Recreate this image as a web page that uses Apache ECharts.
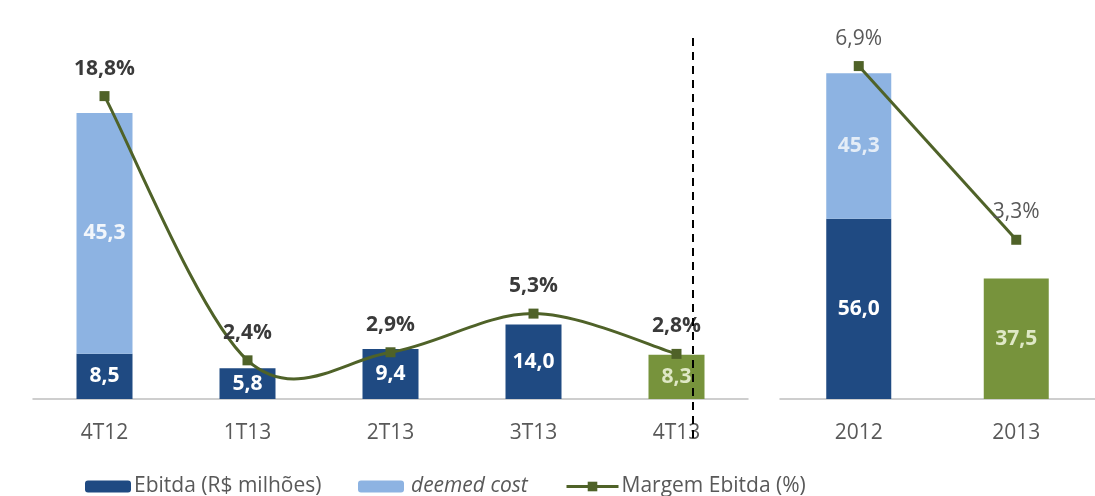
<!DOCTYPE html>
<html>
<head>
<meta charset="utf-8">
<script src="https://cdn.jsdelivr.net/npm/echarts@6/dist/echarts.min.js"></script>
<style>html,body{margin:0;padding:0;background:#fff}#c{width:1095px;height:496px}</style>
</head>
<body>
<div id="c"></div>
<script>
const quarters = ['4T12', '1T13', '2T13', '3T13', '4T13'];
const ebitdaQ = [8.5, 5.8, 9.4, 14.0, 8.3];
const deemedQ = [45.3, null, null, null, null];
const marginQ = [18.8, 2.4, 2.9, 5.3, 2.8];
const years = ['2012', '2013'];
const ebitdaY = [56.0, 37.5];
const deemedY = [45.3, null];
const marginY = [6.9, 3.3];
const highlightQ = [false, false, false, false, true];
const highlightY = [false, true];

const DARK = '#1F4A82', LIGHT = '#8DB3E2', GREEN = '#77933C', LINE = '#4F6228';
const FONT = 'Open Sans';
const fmt = v => Number(v).toFixed(1).replace('.', ',');
const fmtPct = v => fmt(v) + '%';

function ebData(vals, hl) {
  return vals.map((v, i) => hl[i]
    ? { value: v, itemStyle: { color: GREEN }, label: { color: '#dfe8c6' } }
    : { value: v });
}

const N1 = 'Ebitda (R$ milhões)', N2 = 'deemed cost', N3 = 'Margem Ebitda (%)';
const legendBase = {
  top: 471, itemHeight: 12, itemWidth: 46, itemGap: 0,
  textStyle: { fontFamily: FONT, fontSize: 21, color: '#595959', padding: [0, 0, 0, -2] }
};

// Excel-style smoothed curve (Catmull-Rom bezier) through the margin points
function renderSmooth(params, api) {
  const i = params.dataIndex;
  const n = marginQ.length;
  if (i >= n - 1) return { type: 'group', children: [] };
  const P = k => api.coord([Math.max(0, Math.min(n - 1, k)), marginQ[Math.max(0, Math.min(n - 1, k))]]);
  const p0 = P(i - 1), p1 = P(i), p2 = P(i + 1), p3 = P(i + 2);
  const t = 1 / 6;
  return {
    type: 'bezierCurve',
    shape: {
      x1: p1[0], y1: p1[1], x2: p2[0], y2: p2[1],
      cpx1: p1[0] + (p2[0] - p0[0]) * t, cpy1: p1[1] + (p2[1] - p0[1]) * t,
      cpx2: p2[0] - (p3[0] - p1[0]) * t, cpy2: p2[1] - (p3[1] - p1[1]) * t
    },
    style: { stroke: LINE, lineWidth: 3, fill: null }
  };
}

const option = {
  animation: false,
  textStyle: { fontFamily: FONT },
  grid: [
    { left: 33, top: 80, width: 715, height: 319 },
    { left: 780, top: 13, width: 326, height: 386 }
  ],
  legend: [
    Object.assign({}, legendBase, { left: 80, data: [N1] }),
    Object.assign({}, legendBase, { left: 353, data: [N2], textStyle: Object.assign({}, legendBase.textStyle, { fontStyle: 'italic', padding: [0, 0, 0, 2] }) }),
    Object.assign({}, legendBase, { left: 560, itemWidth: 52, data: [{ name: N3, lineStyle: { color: LINE, width: 3, opacity: 1 } }] })
  ],
  xAxis: [
    { type: 'category', gridIndex: 0, data: quarters,
      axisLine: { lineStyle: { color: '#BFBFBF', width: 1.5 } }, axisTick: { show: false },
      axisLabel: { fontFamily: FONT, fontSize: 21, color: '#595959', margin: 24 } },
    { type: 'category', gridIndex: 1, data: years,
      axisLine: { lineStyle: { color: '#BFBFBF', width: 1.5 } }, axisTick: { show: false },
      axisLabel: { fontFamily: FONT, fontSize: 21, color: '#595959', margin: 24 } }
  ],
  yAxis: [
    { type: 'value', gridIndex: 0, min: 0, max: 60, show: false },
    { type: 'value', gridIndex: 0, min: 0, max: 19.8, show: false },
    { type: 'value', gridIndex: 1, min: 0, max: 120, show: false },
    { type: 'value', gridIndex: 1, min: 0, max: 8, show: false }
  ],
  series: [
    { name: N1, type: 'bar', xAxisIndex: 0, yAxisIndex: 0, stack: 'q', barWidth: 56,
      itemStyle: { color: DARK }, data: ebData(ebitdaQ, highlightQ),
      label: { show: true, position: 'inside', color: '#ffffff', fontWeight: 'bold', fontSize: 21, fontFamily: FONT, formatter: p => fmt(p.value) } },
    { name: N2, type: 'bar', xAxisIndex: 0, yAxisIndex: 0, stack: 'q', barWidth: 56,
      itemStyle: { color: LIGHT }, data: deemedQ,
      label: { show: true, position: 'inside', color: '#f2f6fb', fontWeight: 'bold', fontSize: 21, fontFamily: FONT, formatter: p => fmt(p.value) } },
    { name: N3, type: 'line', xAxisIndex: 0, yAxisIndex: 1, data: marginQ,
      symbol: 'rect', symbolSize: 10, lineStyle: { color: LINE, width: 3, opacity: 0 }, itemStyle: { color: LINE },
      label: { show: true, position: 'top', distance: 12, color: '#3a3a3a', fontWeight: 'bold', fontSize: 21, fontFamily: FONT, formatter: p => fmtPct(p.value) }, z: 6 },
    { name: 'curve', type: 'custom', xAxisIndex: 0, yAxisIndex: 1, renderItem: renderSmooth,
      data: marginQ.map((v, i) => [i, v]), silent: true, z: 5 },
    { name: N1, type: 'bar', xAxisIndex: 1, yAxisIndex: 2, stack: 'y', barWidth: 65,
      itemStyle: { color: DARK }, data: ebData(ebitdaY, highlightY),
      label: { show: true, position: 'inside', color: '#ffffff', fontWeight: 'bold', fontSize: 21, fontFamily: FONT, formatter: p => fmt(p.value) } },
    { name: N2, type: 'bar', xAxisIndex: 1, yAxisIndex: 2, stack: 'y', barWidth: 65,
      itemStyle: { color: LIGHT }, data: deemedY,
      label: { show: true, position: 'inside', color: '#e4edf7', fontWeight: 'bold', fontSize: 21, fontFamily: FONT, formatter: p => fmt(p.value) } },
    { name: N3, type: 'line', xAxisIndex: 1, yAxisIndex: 3, data: marginY,
      symbol: 'rect', symbolSize: 10, lineStyle: { color: LINE, width: 3 }, itemStyle: { color: LINE },
      label: { show: true, position: 'top', distance: 12, color: '#595959', fontSize: 21, fontFamily: FONT, formatter: p => fmtPct(p.value) }, z: 5 }
  ],
  graphic: [
    { type: 'line', shape: { x1: 693, y1: 38, x2: 693, y2: 440 },
      style: { stroke: '#000', lineWidth: 2, lineDash: [8, 6] }, z: 10 }
  ]
};
const chart = echarts.init(document.getElementById('c'));
chart.setOption(option);
</script>
</body>
</html>
